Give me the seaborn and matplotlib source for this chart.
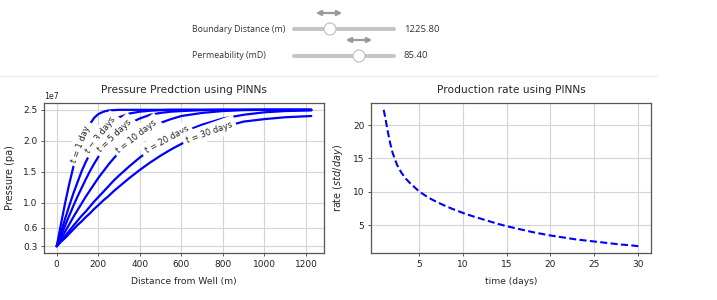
import numpy as np
import pandas as pd
import matplotlib
matplotlib.use("Agg")
import matplotlib.pyplot as plt
import seaborn as sns
from matplotlib.patches import Circle, FancyArrowPatch

# ---------------- data ----------------
distance_m = [0, 20, 40, 60, 80, 100, 120, 140, 160, 180, 200, 225, 250, 275, 300,
              350, 400, 450, 500, 550, 600, 700, 800, 900, 1000, 1100, 1225.8]

# pressure in units of 1e7 Pa
p_t1 = [0.30, 0.65, 0.99, 1.30, 1.58, 1.81, 2.00, 2.15, 2.27, 2.37, 2.43, 2.47, 2.49, 2.495, 2.50,
        2.50, 2.50, 2.50, 2.50, 2.50, 2.50, 2.50, 2.50, 2.50, 2.50, 2.50, 2.50]
p_t3 = [0.30, 0.52, 0.74, 0.95, 1.15, 1.33, 1.51, 1.66, 1.79, 1.92, 2.03, 2.14, 2.24, 2.32, 2.38,
        2.44, 2.47, 2.485, 2.495, 2.50, 2.50, 2.50, 2.50, 2.50, 2.50, 2.50, 2.50]
p_t5 = [0.30, 0.465, 0.63, 0.79, 0.95, 1.10, 1.24, 1.38, 1.51, 1.63, 1.74, 1.86, 1.97, 2.07, 2.15,
        2.28, 2.36, 2.42, 2.45, 2.47, 2.48, 2.495, 2.50, 2.50, 2.50, 2.50, 2.50]
p_t10 = [0.30, 0.42, 0.535, 0.65, 0.77, 0.88, 0.99, 1.10, 1.20, 1.30, 1.40, 1.51, 1.62, 1.72, 1.81,
         1.98, 2.11, 2.21, 2.29, 2.35, 2.40, 2.45, 2.48, 2.495, 2.50, 2.50, 2.50]
p_t20 = [0.30, 0.38, 0.465, 0.545, 0.63, 0.71, 0.79, 0.86, 0.94, 1.02, 1.09, 1.18, 1.27, 1.36, 1.44,
         1.59, 1.73, 1.85, 1.96, 2.05, 2.13, 2.26, 2.36, 2.42, 2.46, 2.48, 2.49]
p_t30 = [0.30, 0.37, 0.43, 0.50, 0.57, 0.64, 0.70, 0.77, 0.83, 0.90, 0.96, 1.04, 1.11, 1.19, 1.26,
         1.40, 1.53, 1.65, 1.76, 1.86, 1.95, 2.10, 2.22, 2.31, 2.35, 2.38, 2.40]

curve_labels = ["t = 1 day", "t = 3 days", "t = 5 days", "t = 10 days", "t = 20 days", "t = 30 days"]
label_x = [115, 213, 279, 386, 530, 734]

days = [1, 1.25, 1.5, 1.75, 2, 2.5, 3, 3.5, 4, 5, 6, 7, 8, 9, 10, 11, 12, 13, 14, 15,
        16, 17, 18, 19, 20, 21, 22, 23, 24, 25, 26, 27, 28, 29, 30]
rate = [22.3, 20.6, 18.8, 17.2, 15.9, 14.1, 12.9, 12.0, 11.3, 10.1, 9.2, 8.5, 7.9, 7.35, 6.85,
        6.4, 6.0, 5.6, 5.2, 4.85, 4.55, 4.25, 3.95, 3.7, 3.45, 3.25, 3.05, 2.85, 2.7, 2.55,
        2.4, 2.25, 2.1, 2.0, 1.85]

pressure_yticks = [0.3, 0.6, 1.0, 1.5, 2.0, 2.5]
rate_xticks = [5, 10, 15, 20, 25, 30]
rate_yticks = [5, 10, 15, 20]

boundary_value = "1225.80"
perm_value = "85.40"

# ---------------- style ----------------
sns.set_style("whitegrid", {
    "axes.edgecolor": "#555555",
    "grid.color": "#d4d4d4",
    "xtick.bottom": True,
    "ytick.left": True,
})
plt.rcParams["font.family"] = ["DejaVu Sans"]
plt.rcParams["axes.linewidth"] = 0.9
plt.rcParams["grid.linewidth"] = 0.8
plt.rcParams["xtick.major.size"] = 2.5
plt.rcParams["ytick.major.size"] = 2.5
plt.rcParams["xtick.major.width"] = 0.7
plt.rcParams["ytick.major.width"] = 0.7
plt.rcParams["xtick.color"] = "#555555"
plt.rcParams["ytick.color"] = "#555555"
plt.rcParams["xtick.labelcolor"] = "#222222"
plt.rcParams["ytick.labelcolor"] = "#222222"
plt.rcParams["xtick.major.pad"] = 2.2
plt.rcParams["ytick.major.pad"] = 2.2

fig = plt.figure(figsize=(7.17, 3.0), dpi=100)

# widget overlay (pixel coordinates)
ov = fig.add_axes([0, 0, 1, 1])
ov.set_xlim(0, 717)
ov.set_ylim(300, 0)
ov.axis("off")

ax1 = fig.add_axes([44 / 717, 47 / 300, 280 / 717, 150 / 300])
ax2 = fig.add_axes([371 / 717, 47 / 300, 280 / 717, 150 / 300])

TICK_FS = 6.5

# ---------------- pressure plot ----------------
curves = [p_t1, p_t3, p_t5, p_t10, p_t20, p_t30]
rows = []
for lab, vals in zip(curve_labels, curves):
    for d, p in zip(distance_m, vals):
        rows.append({"distance": d, "pressure": p * 1e7, "curve": lab})
df = pd.DataFrame(rows)
sns.lineplot(data=df, x="distance", y="pressure", hue="curve", units="curve",
             estimator=None, palette=["blue"] * 6, legend=False, lw=1.6, ax=ax1, sort=True)

ax1.set_yticks([v * 1e7 for v in pressure_yticks])
ax1.tick_params(labelsize=TICK_FS)
ax1.yaxis.get_offset_text().set_fontsize(5.6)
ax1.set_title("Pressure Predction using PINNs", fontsize=7.7, pad=7)
ax1.set_xlabel("Distance from Well (m)", fontsize=6.6, labelpad=6)
ax1.set_ylabel("Pressure (pa)", fontsize=7.0, labelpad=6)

fig.canvas.draw()
for lab, xpos, vals in zip(curve_labels, label_x, curves):
    y = np.interp(xpos, distance_m, vals) * 1e7
    y2 = np.interp(xpos + 8, distance_m, vals) * 1e7
    p1 = ax1.transData.transform((xpos, y))
    p2 = ax1.transData.transform((xpos + 8, y2))
    ang = np.degrees(np.arctan2(p2[1] - p1[1], p2[0] - p1[0]))
    ax1.text(xpos, y, lab, rotation=ang, rotation_mode="anchor", ha="center", va="center",
             fontsize=6.0, color="#222222", zorder=5,
             bbox=dict(boxstyle="square,pad=0.45", fc="white", ec="none"))

# ---------------- rate plot ----------------
sns.lineplot(x=days, y=rate, color="blue", lw=1.5, linestyle=(0, (3.4, 1.6)), ax=ax2)
ax2.set_xticks(rate_xticks)
ax2.set_yticks(rate_yticks)
ax2.tick_params(labelsize=TICK_FS)
ax2.set_title("Production rate using PINNs", fontsize=7.7, pad=7)
ax2.set_xlabel("time (days)", fontsize=6.6, labelpad=6)
ax2.set_ylabel("rate ($std/day$)", fontsize=7.0, labelpad=6)

# ---------------- widget header ----------------
ov.plot([0, 657], [75.5, 75.5], color="#eeeeee", lw=1)

for (row_y, name, val, handle_x, arrow_x) in [
        (29, "Boundary Distance (m)", boundary_value, 330, 313),
        (56, "Permeability (mD)", perm_value, 359, 343)]:
    ov.text(192, row_y, name, ha="left", va="center", family="Open Sans",
            fontsize=6.3, color="#333333")
    ov.text(404, row_y, val, ha="left", va="center", family="Open Sans",
            fontsize=6.8, color="#333333")
    ov.plot([294, 394], [row_y, row_y], color="#c4c4c4", lw=2.8, solid_capstyle="round")
    ov.add_patch(Circle((handle_x, row_y), 6.0, fc="white", ec="#bdbdbd", lw=0.8, zorder=3))
    ov.add_patch(FancyArrowPatch((arrow_x, row_y - 16), (arrow_x + 32, row_y - 16),
                                 arrowstyle="<|-|>", mutation_scale=7, color="#9a9a9a", lw=1.6))

fig.savefig("out.png", dpi=100)
